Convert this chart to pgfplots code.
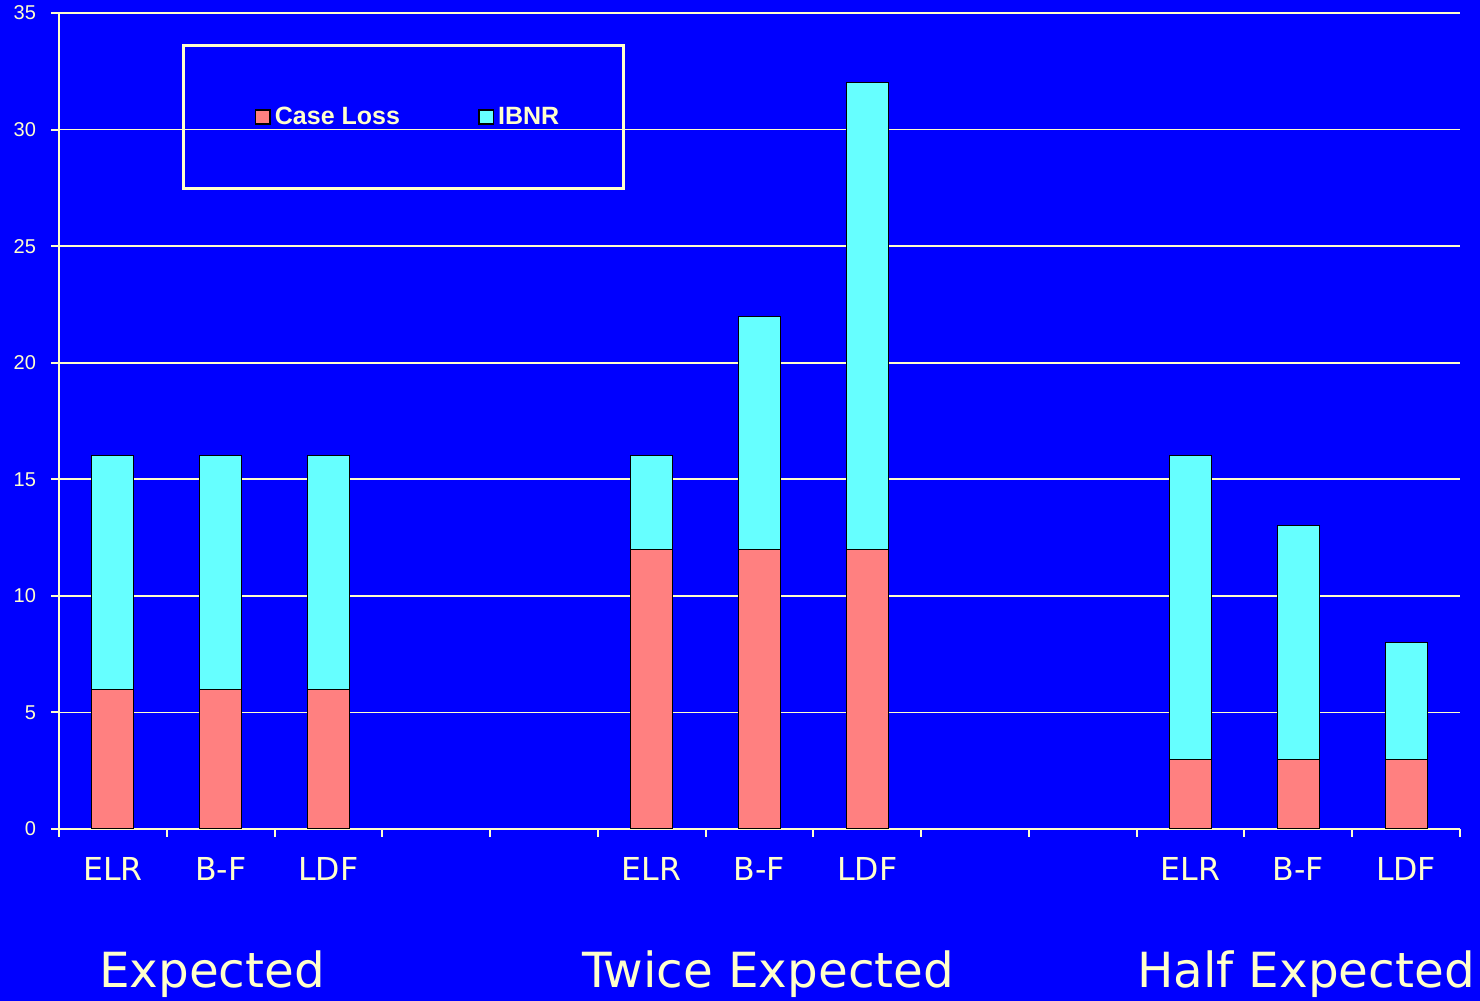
\documentclass[border=0pt]{standalone}
\usepackage{pgfplots}
\pgfplotsset{compat=1.18}
\usepackage{fontspec}
\setmainfont{Liberation Sans}
\newfontfamily\dejavu{DejaVu Sans}
\definecolor{bg}{HTML}{0000FF}
\definecolor{pale}{HTML}{FFFFCC}
\definecolor{caseloss}{HTML}{FF8080}
\definecolor{ibnr}{HTML}{66FFFF}
\begin{document}
\begin{tikzpicture}
\fill[bg] (0,0) rectangle (740pt,500.5pt);
\begin{axis}[
  at={(29.5pt,86pt)}, anchor=south west,
  width=700.5pt, height=408pt, scale only axis,
  xmin=-0.5, xmax=12.5, ymin=0, ymax=35,
  axis lines*=left,
  axis line style={pale, line width=1pt, -},
  ybar stacked, bar width=0.39,
  ytick={0,5,...,35},
  ymajorgrids, grid style={pale, line width=0.8pt},
  xtick={-0.5,0.5,...,12.5}, xticklabels={},
  tick align=outside, major tick length=4pt,
  tick style={pale, line width=1pt},
  y tick label style={font=\fontsize{10}{12}\selectfont, text=pale, xshift=-4pt},
  /pgf/number format/assume math mode=true,
  extra x ticks={0,1,2,5,6,7,10,11,12},
  extra x tick labels={ELR,B-F,LDF,ELR,B-F,LDF,ELR,B-F,LDF},
  extra x tick style={major tick length=0pt, grid=none,
    xticklabel style={font=\dejavu\fontsize{15.8}{18}\selectfont, text=pale, anchor=base, yshift=-26pt}},
  legend columns=2,
  legend style={at={(rel axis cs:0.246,0.8725)}, anchor=center, draw=pale, line width=1.5pt, fill=none,
    text=pale, font=\bfseries\fontsize{12.5}{14}\selectfont,
    inner xsep=30.3pt, inner ysep=28.75pt,
    /tikz/every even column/.append style={column sep=37pt}},
  legend cell align=left,
  clip=false,
]
\addplot[fill=caseloss, draw=black, line width=0.5pt,
  legend image code/.code={\path (-5.5pt,0pt) (0pt,-6pt); \draw[fill=caseloss, draw=black, line width=0.8pt] (0pt,-3.6pt) rectangle (7.3pt,3.6pt);}]
  coordinates {(0,6) (1,6) (2,6) (5,12) (6,12) (7,12) (10,3) (11,3) (12,3)};
\addlegendentry{Case Loss}
\addplot[fill=ibnr, draw=black, line width=0.5pt,
  legend image code/.code={\path (0pt,-6pt); \draw[fill=ibnr, draw=black, line width=0.8pt] (0pt,-3.6pt) rectangle (7.3pt,3.6pt);}]
  coordinates {(0,10) (1,10) (2,10) (5,4) (6,10) (7,20) (10,13) (11,10) (12,5)};
\addlegendentry{IBNR}
\node[anchor=base, text=pale, font=\dejavu\fontsize{24.2}{27}\selectfont, yshift=-79.5pt] at (axis cs:0.92,0) {Expected};
\node[anchor=base, text=pale, font=\dejavu\fontsize{24.2}{27}\selectfont, yshift=-79.5pt] at (axis cs:6.08,0) {Twice Expected};
\node[anchor=base, text=pale, font=\dejavu\fontsize{24.2}{27}\selectfont, yshift=-79.5pt] at (axis cs:11.07,0) {Half Expected};
\end{axis}
\pgfresetboundingbox
\path (0,0) rectangle (740pt,500.5pt);
\end{tikzpicture}
\end{document}
